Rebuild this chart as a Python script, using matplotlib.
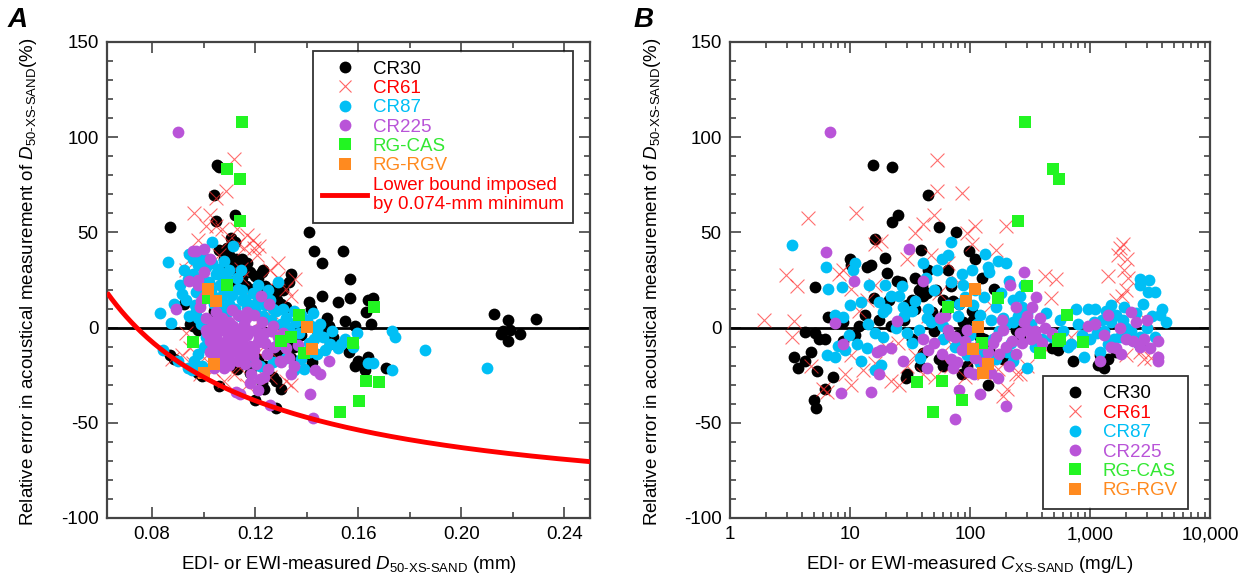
import numpy as np
import matplotlib
matplotlib.use("Agg")
import matplotlib.pyplot as plt
from matplotlib.lines import Line2D
from matplotlib.ticker import MultipleLocator, FixedLocator, FuncFormatter, LogLocator, NullFormatter

plt.rcParams['font.family'] = ['Liberation Sans', 'DejaVu Sans']
plt.rcParams['mathtext.fontset'] = 'custom'
plt.rcParams['mathtext.rm'] = 'Liberation Sans'
plt.rcParams['mathtext.it'] = 'Liberation Sans:italic'
plt.rcParams['axes.unicode_minus'] = False

# ---------------- DATA ----------------
series_names = ['CR30', 'CR61', 'CR87', 'CR225', 'RG-CAS', 'RG-RGV']
MIN_D50 = 0.074  # mm, lower bound of acoustical D50

# Panel A: (EDI/EWI-measured D50-XS-SAND [mm], relative error [%])
A_CR30 = [(0.087,53),(0.1052,85.6),(0.106,84.6),(0.104,69.6),(0.105,56),(0.112,59),(0.1106,47),(0.112,45),
          (0.106,41),(0.1078,36),(0.110,38),(0.1125,36),(0.1148,36),(0.117,34),(0.113,32),(0.116,31),(0.111,34),
          (0.1225,29),(0.123,30),(0.134,28),(0.133,24),(0.127,16.5),(0.1286,14.6),(0.130,12.6),(0.132,10.7),(0.121,26),
          (0.141,50),(0.143,40),(0.146,34),(0.1543,40),(0.157,25.5),(0.146,16.5),(0.1523,13.4),(0.157,15.6),(0.141,13.6),
          (0.1418,9.7),(0.148,5.3),(0.1657,15.6),(0.164,14.6),(0.163,8.2),(0.165,2),(0.155,3.3),(0.1588,1),(0.1487,1),
          (0.147,-3),(0.1565,-12.6),(0.1588,-20.4),(0.160,-17.5),(0.162,-19.5),(0.164,-15.6),(0.1626,-22.4),(0.171,-21.4),
          (0.127,-26),(0.128,-28),(0.130,-32),(0.1233,-32),(0.1225,-29),(0.120,-38),(0.128,-42.4),(0.106,-30.5),
          (0.0993,-25.3),(0.0978,-24),(0.087,-14.6),(0.0885,-16.5),(0.0923,12.6),(0.0947,2),(0.096,1),
          (0.2128,7.2),(0.218,3.9),(0.2163,-1.9),(0.2155,-3.5),(0.219,-1),(0.218,-7.2),(0.223,-3.5),(0.229,4.3),
          (0.110,-18.5),(0.119,-20.4),(0.121,-16.5),(0.1287,-14.6),(0.1256,-12.6),(0.1317,-8.8),(0.138,-3.9),
          (0.138,1),(0.144,-1),(0.1503,-4.9),(0.149,-8.8),(0.1163,22),(0.1195,20.4),(0.1117,24.3),(0.0978,-1),(0.104,8.8),
          (0.108,30),(0.109,42),(0.1135,28),(0.115,26),(0.118,29),(0.120,27),(0.124,22),(0.126,20),(0.128,18),(0.131,20),
          (0.118,-24),(0.124,-20),(0.113,-22),(0.108,-14),(0.135,-10),(0.140,-14),(0.142,-18),(0.134,-16)]
A_CR61 = [(0.1117,88.5),(0.1086,72),(0.1047,68),(0.0962,60),(0.1024,59),(0.1008,53.5),(0.1047,53.5),(0.0978,46),
          (0.107,51.6),(0.117,48.6),(0.1194,41.8),(0.1217,42.8),(0.1206,38),(0.1132,43.8),(0.1155,41.8),(0.1093,45.7),
          (0.1256,30),(0.1287,26),(0.1356,25.3),(0.132,20.4),(0.134,16.5),(0.129,34),(0.0947,36),(0.093,30),(0.0978,30),
          (0.1148,26),(0.093,-3),(0.0947,-10.7),(0.0915,-14.6),(0.0877,-16.5),(0.096,-18.5),(0.0985,-24.3),(0.1035,-22.4),
          (0.1117,-24.3),(0.117,-30),(0.134,-30),(0.132,-28),(0.1225,-24.3),(0.1256,-26),(0.1132,-20.4),(0.129,-16.5),
          (0.121,-12.6),(0.1163,3),(0.107,1),(0.112,8.8),(0.121,3),(0.129,-1),(0.1035,22.4),(0.1086,18.5),(0.118,16.5),
          (0.1225,10.7),(0.110,28),(0.1145,31),(0.124,20),(0.106,38),(0.113,52),(0.119,46),(0.126,8),(0.131,-8),
          (0.108,-28),(0.1,-16)]
A_CR87 = [(0.0863,34.6),(0.0831,7.8),(0.0873,2.5),(0.0842,-12),(0.090,-17.5),(0.0939,-21.4),(0.0962,-17.5),
          (0.0955,-22.4),(0.0993,-20.4),(0.1032,45),(0.1114,42.8),(0.0944,38.9),(0.096,36),(0.0923,30),(0.0939,25.3),
          (0.0908,22.4),(0.0915,17.5),(0.0885,12.6),(0.093,14.6),(0.097,18.5),(0.097,8.8),(0.0993,26.2),(0.1008,32),
          (0.1032,34),(0.1047,28.2),(0.1062,22.4),(0.1086,26),(0.107,16.5),(0.110,12.6),(0.1132,20.4),(0.1148,14.6),
          (0.117,10.7),(0.121,22.4),(0.129,24),(0.1256,14.6),(0.128,8.8),(0.132,4.9),(0.135,8.8),(0.138,6.8),
          (0.1425,7.8),(0.1418,1),(0.144,-1),(0.1465,-4.9),(0.1489,-8.8),(0.152,-10.7),(0.1534,-8.8),(0.1595,-3),
          (0.164,-18.5),(0.1657,-18.5),(0.173,-2),(0.1742,-4.9),(0.173,-22.4),(0.186,-12),(0.210,-21),(0.138,-16.5),
          (0.135,-22.4),(0.1414,-12.6),(0.119,-16.5),(0.1163,-12.6),(0.1132,-4.9),(0.1086,-1),(0.1047,3),(0.1008,1),
          (0.1225,-4.9),(0.129,-8.8),(0.0978,4.9),(0.104,12.6),(0.1145,30),(0.108,35),(0.124,12),(0.1005,18),
          (0.096,28),(0.098,33),(0.0995,38),(0.101,36),(0.102,24),(0.103,20),(0.104,16),(0.1055,31),(0.106,12),
          (0.107,27),(0.108,20),(0.109,8),(0.110,30),(0.111,17),(0.112,10),(0.113,26),(0.114,6),(0.115,20),(0.116,15),
          (0.118,12),(0.119,18),(0.120,9),(0.121,14),(0.123,6),(0.125,20),(0.126,4),(0.127,10),(0.130,2),(0.131,10),
          (0.133,0),(0.136,3),(0.137,-3),(0.140,4),(0.143,-6),(0.145,2),(0.147,-12),(0.150,-2),(0.155,-6),(0.158,-10),
          (0.100,-10),(0.098,-14),(0.0965,12),(0.0945,6),(0.099,2),(0.101,-5),(0.117,-18),(0.122,-20),(0.127,-18),
          (0.132,-16),(0.139,-22),(0.141,-8),(0.144,-14)]
A_CR225 = [(0.090,102.7),(0.097,40),(0.100,41.4),(0.100,29),(0.0944,24.3),(0.0978,22.4),(0.0893,9.7),(0.1221,16.5),
           (0.1253,12.6),(0.104,-21.4),(0.108,-21.4),(0.1127,-34),(0.1143,-35),(0.1183,-24.3),(0.1233,-26),
           (0.1256,-40.9),(0.1413,-35),(0.1426,-47.7),(0.1295,-17.5),(0.135,-20.4),(0.1433,-22.4),(0.145,-24.3),
           (0.1486,-17.5),(0.134,-24.3),(0.121,-33),(0.106,-16.5),(0.1024,-12.6),(0.1008,4.9),(0.1039,2.9),(0.107,4.9),
           (0.110,2.9),(0.1132,6.8),(0.1163,4.9),(0.1194,6.8),(0.1225,2.9),(0.1008,-1),(0.1047,-2.9),(0.1078,-1),
           (0.1109,-3.9),(0.114,-1.9),(0.117,-3.9),(0.1202,-1),(0.1233,-2.9),(0.1024,-6.8),(0.1055,-8.8),(0.1086,-6.8),
           (0.1117,-9.7),(0.1148,-7.8),(0.118,-9.7),(0.121,-7.8),(0.107,-12.6),(0.110,-14.6),(0.1132,-12.6),
           (0.1163,-14.6),(0.1194,-11.7),(0.110,-19.5),(0.1132,-17.5),(0.129,-4.9),(0.132,-10.7),(0.127,1),(0.0985,10.7),
           (0.1015,-3),(0.103,0),(0.105,-5),(0.1065,1),(0.108,-11),(0.109,-3),(0.1115,1),(0.1125,-6),(0.115,-12),
           (0.1155,2),(0.118,-2),(0.119,-15),(0.1215,-5),(0.124,-8),(0.1245,-14),(0.126,-2),(0.1275,-10),(0.130,-18),
           (0.105,-14),(0.1035,-10),(0.1095,-17),(0.116,-19),(0.1205,-19),(0.117,8),(0.111,9),(0.105,8),(0.100,16),
           (0.098,25),(0.1025,36),(0.096,40),(0.099,14),(0.125,-22),(0.122,-27),(0.118,-29),(0.131,-3),(0.133,-16),
           (0.1365,-9)]
A_CAS = [(0.1151,108),(0.109,83.3),(0.114,77.8),(0.114,55.8),(0.109,22.4),(0.1016,15.6),(0.0959,-7.8),(0.130,-7.2),
         (0.134,-4.9),(0.1371,6.8),(0.139,-13.2),(0.158,-8.2),(0.1662,10.7),(0.163,-28.2),(0.168,-28.6),(0.1603,-38.3),
         (0.153,-44.4)]
A_RGV = [(0.1019,20.4),(0.105,14),(0.140,0.4),(0.142,-11.3),(0.1039,-18.9),(0.100,-24)]

# Panel B: (EDI/EWI-measured C-XS-SAND [mg/L], relative error [%])
B_CR30 = [(15.4,85.6),(22.4,84.6),(45,69.6),(22.6,55.4),(25,59.3),(54.8,53),(77,50.2),(16.2,46.7),(99,40.3),(110,36),
          (39,40.8),(10,36),(10.2,33),(13.9,32),(15,33),(19.7,36.4),(20.2,28.6),(24.6,24.7),(26.7,24),(16,15.6),
          (21.3,14.6),(35,26.3),(37.8,19.5),(32.6,14.6),(40.9,16.5),(60,14.6),(81.6,12.6),(103,8.8),(125,26.3),
          (157,20.4),(65,30),(5.1,21.4),(6.6,5.8),(8.8,2.9),(4.2,-2.5),(5.1,-2.9),(5.5,-5.8),(6.2,-5.8),(3.4,-15.6),
          (3.7,-21.4),(4.2,-17.5),(4.7,-12.6),(5.3,-23),(6.2,-32),(7.2,-26),(5,-37.9),(5.2,-42.4),(8.8,-6.8),(11,-3.9),
          (11.9,1),(13.4,6.8),(17.5,3.9),(22,1),(30,-24.3),(29.5,-26.3),(40.9,-13.6),(55,-16.5),(85,-24.3),(88,2.9),
          (140,-30),(88,-8.8),(120,-4.9),(190,-16.5),(240,-1),(260,-4.9),(480,-10.7),(540,-11.7),(720,-17.5),
          (1170,-19.5),(1320,-21.4),(1420,-16.5),(1660,-12.6),(2150,-5.8),(2600,-9.7),(1210,-14.6),(45,30),(70,22),
          (30,12),(35,10),(40,22),(44,18),(48,8),(50,-2),(52,20),(62,8),(66,-4),(72,14),(80,-4),(90,-2),(95,-20),
          (105,4),(115,-14),(130,-6),(145,-12),(60,-20),(38,-20),(28,4),(33,-6)]
B_CR61 = [(1.92,3.9),(2.94,27.8),(3.62,22),(3.4,3.3),(3.3,-4.9),(4.5,57.8),(11.3,60),(53.6,88),(53.6,72),(85,70.6),
          (49.7,59.3),(40.9,54.5),(35,49.6),(95,49.6),(111,53.5),(198,53.5),(164,40.8),(103,43.8),(47.6,38),(65,34),
          (30,36),(8.8,30),(8.1,28.2),(10.2,20.4),(16.2,43.8),(18.2,45.7),(16.2,22.4),(13.9,14.6),(11.9,8.8),
          (10.2,-14.6),(9.1,-24.3),(10.2,-30),(12.9,-22.4),(16.2,-18.5),(22,-28),(25.7,-30),(30,-20.4),(35,-14.6),
          (40.9,-24.3),(51.5,-26),(70,-20.4),(70,-8.8),(111,-16.5),(190,-36),(205,-32),(240,-24.3),(422,27.2),
          (520,25.3),(475,15.6),(1415,27.2),(1790,41.8),(1890,43.8),(2040,36),(1720,38),(1930,30),(2090,26.3),
          (1860,16.5),(2000,19.5),(1660,14.6),(3050,2.9),(2600,-12.6),(2830,-16.5),(2000,-14.6),(890,-1),(700,-4.9),
          (380,-8.8),(260,-24.3),(4.7,-20.4),(6,-32),(6.4,-34),(20,-10),(25,-8),(45,6),(55,18),(80,24),(90,-26),
          (130,-24),(150,12),(170,-22),(300,-20),(3200,-16)]
B_CR87 = [(3.27,43.4),(6.3,32),(6.5,20.4),(8.6,21.4),(7.5,6.8),(8.8,5.8),(10.6,30),(11,34),(12.4,13.6),(14.5,22.4),
          (17.5,13.6),(19.7,22.4),(22,16.5),(25.7,16.5),(27.8,10.7),(32.6,8.8),(40.9,34),(42.6,26.3),(53.6,30),(58,36),
          (70,44.7),(65,38),(85,28.2),(88,22.4),(103,30),(134,38.9),(140,32),(145,29),(170,35),(198,34),(210,24.3),
          (230,14.6),(270,10.7),(300,7.8),(430,7.8),(560,3.9),(760,9.7),(960,9.7),(1080,2.9),(1360,8.8),(1660,6.8),
          (1930,10.7),(2430,7.8),(2600,25.3),(2600,22.4),(3050,18.5),(3500,18.5),(2750,12.6),(3800,6.8),(4300,2.9),
          (3500,-4.9),(2600,-4.9),(1790,-4.9),(1420,-8.8),(1210,-12.6),(890,-15.6),(700,-8.8),(480,-4.9),(300,-21.4),
          (230,-17.5),(205,-12.6),(164,-16.5),(120,-18.5),(95,-14.6),(79,-6.8),(60,1),(47.6,2.9),(37.8,-1),(30,-2.9),
          (24,0),(18.9,-4.9),(16.2,-2.9),(13.9,-10.7),(11.5,-8.8),(9.8,-3.9),(8,-9.7),(6.4,-14.6),(7.5,-15.6),
          (12.4,-17.5),(16.2,-22.4),(18.2,-19.5),(230,2.9),(260,16.5),(280,22.4),(120,6.8),(164,10.7),(190,4.9),
          (81.6,12.6),(1500,3),(2000,0),(1150,-3),(20,10),(28,6),(35,14),(45,10),(50,20),(55,4),(60,-6),(65,12),
          (70,24),(75,-10),(80,6),(90,16),(100,-4),(105,12),(110,20),(115,2),(125,-14),(130,16),(150,4),(155,-6),
          (175,-2),(180,18),(200,2),(220,-8),(250,6),(320,2),(350,-10),(400,-6),(600,-2),(650,-10),(800,2),(850,-4),
          (1000,-6),(1250,4),(1300,-2),(1600,-6),(1900,4),(2200,-2),(2500,-8),(3000,0),(3300,6),(4000,10),(1100,10),
          (1500,12),(3100,25),(33,-8),(38,-16),(44,5),(27,22),(19,8),(14,2),(10,12),(9,-12)]
B_CR225 = [(6.8,102.7),(6.3,39.9),(10.8,24.7),(31,41.2),(40.4,24.7),(24.6,3.3),(7.5,2.3),(8.8,-8.8),(16.8,-12.6),
           (18.2,-11.7),(22,-10.7),(27.8,-17.5),(17.5,-24.3),(15,-34),(8.4,-34.4),(44,-21.4),(45,-11.7),(40.9,-5.8),
           (55.7,4.9),(65,-1),(75,-4.9),(70,-16.5),(72,-21.4),(81,-32.7),(75,-48),(99,-23.3),(107,-24.3),(120,-35),
           (170,-26.3),(201,-41.4),(140,-12.6),(164,-4.9),(190,-1),(222,-6.8),(260,-2.9),(280,2.9),(300,-1),(355,-4.9),
           (281,29),(356,16.1),(215,22.4),(240,10.7),(330,10.7),(380,4.9),(480,-2.9),(960,1),(1100,1.9),(1420,6.8),
           (1210,-17.5),(1660,-10.7),(1790,0),(2430,2.9),(2830,-5.8),(3150,-10.7),(3700,-6.8),(3700,-15.6),
           (3700,-17.5),(2300,-6.8),(120,-8.8),(95,-1),(91,-6.8),(103,-10.7),(50,-8),(58,-14),(62,6),(68,-4),
           (78,-18),(85,-12),(110,-16),(130,-18),(150,-24),(155,-8),(175,-14),(185,4),(200,-10),(210,-20),(240,-14),
           (270,-8),(300,6),(320,-6),(350,-2),(400,-8),(420,0),(1300,-4),(1500,-10),(2000,-6),(2600,-10),(3000,4),
           (1800,-14),(2200,8)]
B_CAS = [(287,108),(490,83.3),(550,77.8),(250,55.8),(300,22),(170,15.6),(65,10.7),(640,6.4),(560,-5.8),(540,-7.2),
         (870,-7.4),(125,-8.2),(385,-13.2),(35.9,-28.8),(58,-27.8),(85,-37.9),(49,-44.2)]
B_RGV = [(111,20.4),(93,14),(116,0.4),(105,-11.3),(142,-18.9),(128,-24)]

# ---------------- STYLE ----------------
colors = {'CR30': 'black', 'CR61': '#ff3030', 'CR87': '#00bff5', 'CR225': '#b954d8',
          'RG-CAS': '#22f522', 'RG-RGV': '#ff8a1f'}
text_colors = {'CR30': 'black', 'CR61': '#ff0000', 'CR87': '#00bff5', 'CR225': '#b954d8',
               'RG-CAS': '#33e833', 'RG-RGV': '#ff8a1f'}
FS = 13.5
spine_col = '#444444'

fig = plt.figure(figsize=(12.5, 5.85), dpi=100)
axA = fig.add_axes([107/1250, 1-518/585, 483/1250, 476/585])
axB = fig.add_axes([730/1250, 1-518/585, 480/1250, 476/585])


def scatter_all(ax, data):
    cr30, cr61, cr87, cr225, cas, rgv = data
    def xy(d):
        x, y = zip(*d)
        return np.array(x), np.array(y)
    x, y = xy(cr30); ax.scatter(x, y, s=72, c=colors['CR30'], marker='o', linewidths=0, zorder=3)
    x, y = xy(cr61); ax.scatter(x, y, s=100, c=colors['CR61'], marker='x', linewidths=0.8, alpha=0.7, zorder=4)
    x, y = xy(cr87); ax.scatter(x, y, s=72, c=colors['CR87'], marker='o', linewidths=0, zorder=5)
    x, y = xy(cr225); ax.scatter(x, y, s=72, c=colors['CR225'], marker='o', linewidths=0, zorder=6)
    x, y = xy(cas); ax.scatter(x, y, s=64, c=colors['RG-CAS'], marker='s', linewidths=0, zorder=7)
    x, y = xy(rgv); ax.scatter(x, y, s=64, c=colors['RG-RGV'], marker='s', linewidths=0, zorder=8)


def style_axes(ax):
    for sp in ax.spines.values():
        sp.set_color(spine_col)
        sp.set_linewidth(1.6)
    ax.tick_params(which='both', direction='in', top=True, right=True, color=spine_col,
                   labelsize=FS, width=1.2, pad=6)
    ax.tick_params(which='major', length=8)
    ax.tick_params(which='minor', length=4)
    ax.set_ylim(-100, 150)
    ax.yaxis.set_major_locator(MultipleLocator(50))
    ax.yaxis.set_minor_locator(MultipleLocator(10))
    ax.axhline(0, color='black', lw=2, zorder=2)


ylabel = r'Relative error in acoustical measurement of $\mathit{D}_{\text{50-XS-SAND}}$(%)'

# Panel A
scatter_all(axA, [A_CR30, A_CR61, A_CR87, A_CR225, A_CAS, A_RGV])
d_curve = np.linspace(0.0625, 0.25, 300)
axA.plot(d_curve, (MIN_D50 / d_curve - 1) * 100, color='#ff0000', lw=3.5, zorder=9, solid_capstyle='butt')
style_axes(axA)
axA.set_xlim(0.0625, 0.25)
axA.xaxis.set_major_locator(FixedLocator([0.08, 0.12, 0.16, 0.20, 0.24]))
axA.xaxis.set_minor_locator(FixedLocator([0.10, 0.14, 0.18, 0.22]))
axA.xaxis.set_major_formatter(FuncFormatter(lambda v, p: f'{v:.2f}'))
axA.set_xlabel(r'EDI- or EWI-measured $\mathit{D}_{\text{50-XS-SAND}}$ (mm)', fontsize=FS)
axA.set_ylabel(ylabel, fontsize=FS)
axA.xaxis.set_label_coords(0.5, -0.075)
axA.yaxis.set_label_coords(-0.14, 0.495)

# Panel B
scatter_all(axB, [B_CR30, B_CR61, B_CR87, B_CR225, B_CAS, B_RGV])
style_axes(axB)
axB.set_xscale('log')
axB.set_xlim(1, 10000)
axB.xaxis.set_major_locator(LogLocator(base=10, numticks=10))
axB.xaxis.set_minor_locator(LogLocator(base=10, subs=np.arange(2, 10), numticks=20))
axB.xaxis.set_minor_formatter(NullFormatter())
axB.xaxis.set_major_formatter(FuncFormatter(lambda v, p: f'{int(round(v)):,}'))
axB.set_xlabel(r'EDI- or EWI-measured $\mathit{C}_{\text{XS-SAND}}$ (mg/L)', fontsize=FS)
axB.set_ylabel(ylabel, fontsize=FS)
axB.xaxis.set_label_coords(0.5, -0.075)
axB.yaxis.set_label_coords(-0.14, 0.495)

# Legends
markers = {'CR30': 'o', 'CR61': 'x', 'CR87': 'o', 'CR225': 'o', 'RG-CAS': 's', 'RG-RGV': 's'}
def handles():
    hs = []
    for n in series_names:
        hs.append(Line2D([], [], ls='none', marker=markers[n], color=colors[n],
                         markersize=8.5 if markers[n] != 's' else 8,
                         markeredgewidth=0.8 if markers[n] == 'x' else 0,
                         alpha=0.75 if n == 'CR61' else 1))
    return hs

legkw = dict(frameon=True, fancybox=False, fontsize=FS, handlelength=2.4, handletextpad=0.3,
             labelspacing=0.12, borderpad=0.5, borderaxespad=0, loc='upper left')

hA = handles() + [Line2D([], [], color='#ff0000', lw=3.5)]
labA = series_names + ['Lower bound imposed\nby 0.074-mm minimum']
legA = axA.legend(hA, labA, bbox_to_anchor=(313/1250, 1-51/585), bbox_transform=fig.transFigure, **legkw)
legB = axB.legend(handles(), series_names, bbox_to_anchor=(1043/1250, 1-376/585),
                  bbox_transform=fig.transFigure, **legkw)
for leg, names in ((legA, series_names + ['line']), (legB, series_names)):
    fr = leg.get_frame()
    fr.set_edgecolor('black')
    fr.set_linewidth(1.3)
    leg.set_zorder(20)
    for t, n in zip(leg.get_texts(), names):
        t.set_color(text_colors.get(n, '#ff0000'))

# Panel letters
fig.text(8/1250, 1-27/585, 'A', fontsize=20, fontweight='bold', fontstyle='italic')
fig.text(634/1250, 1-27/585, 'B', fontsize=20, fontweight='bold', fontstyle='italic')

fig.savefig('out.png', dpi=100, facecolor='white')
